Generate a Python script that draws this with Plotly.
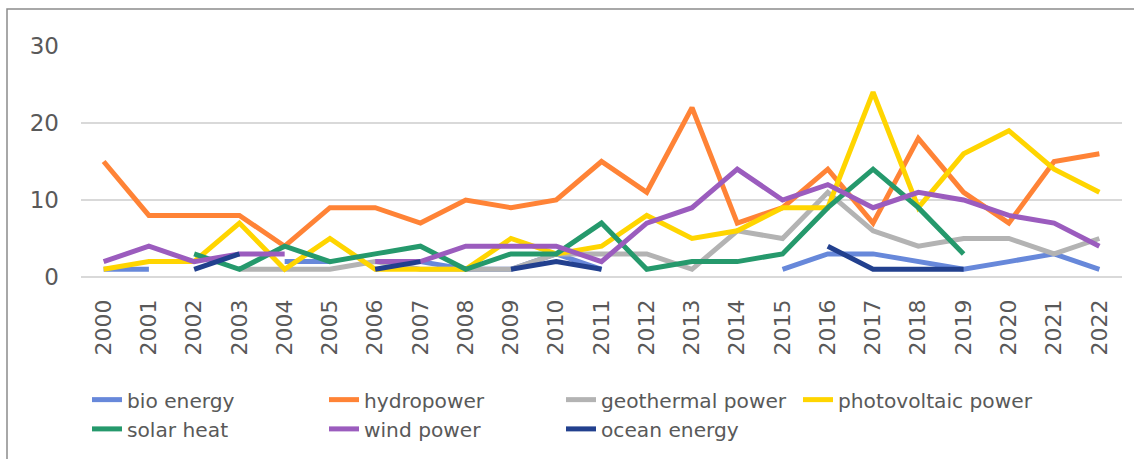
import plotly.graph_objects as go

years = [str(y) for y in range(2000, 2023)]
N = None
bio_energy =      [1, 1, N, N, 2, 2, N, 2, 1, 1, 3, 1, N, N, N, 1, 3, 3, 2, 1, 2, 3, 1]
hydropower =      [15, 8, 8, 8, 4, 9, 9, 7, 10, 9, 10, 15, 11, 22, 7, 9, 14, 7, 18, 11, 7, 15, 16]
geothermal =      [N, N, N, 1, 1, 1, 2, 1, 1, 1, 3, 3, 3, 1, 6, 5, 11, 6, 4, 5, 5, 3, 5]
photovoltaic =    [1, 2, 2, 7, 1, 5, 1, 1, 1, 5, 3, 4, 8, 5, 6, 9, 9, 24, 9, 16, 19, 14, 11]
solar_heat =      [N, N, 3, 1, 4, 2, 3, 4, 1, 3, 3, 7, 1, 2, 2, 3, 9, 14, 9, 3, N, N, N]
wind_power =      [2, 4, 2, 3, 3, N, 2, 2, 4, 4, 4, 2, 7, 9, 14, 10, 12, 9, 11, 10, 8, 7, 4]
ocean_energy =    [N, N, 1, 3, N, N, 1, 2, N, 1, 2, 1, N, N, N, N, 4, 1, 1, 1, N, N, N]

series = [
    ("bio energy", bio_energy, "#6788DA"),
    ("hydropower", hydropower, "#FF8336"),
    ("geothermal power", geothermal, "#B3B3B3"),
    ("photovoltaic power", photovoltaic, "#FFD500"),
    ("solar heat", solar_heat, "#25996C"),
    ("wind power", wind_power, "#9B5CBE"),
    ("ocean energy", ocean_energy, "#22408E"),
]

fig = go.Figure()
for name, vals, color in series:
    fig.add_trace(go.Scatter(
        x=years, y=vals, name=name, mode="lines",
        line=dict(color=color, width=5),
        connectgaps=False,
    ))

font_color = "#595959"
W, H = 1134, 459
ml, mr, mt, mb = 40, 12, 46, 10
pw, ph = W - ml - mr, H - mt - mb
plot_left_px, plot_bottom_px = 81, 277
xdom0 = (plot_left_px - ml) / pw
ydom0 = (H - mb - plot_bottom_px) / ph
bw = 20

def px_x(p):
    return (p - ml) / pw

def px_y(p):
    return (H - mb - p) / ph

fig.update_layout(
    width=W, height=H,
    margin=dict(l=ml, r=mr, t=mt, b=mb, autoexpand=False),
    paper_bgcolor="white", plot_bgcolor="white",
    font=dict(family="DejaVu Sans", size=21, color=font_color),
    showlegend=True,
    legend=dict(
        orientation="h", x=px_x(87 - bw), xanchor="left", y=px_y(380 - bw), yanchor="top",
        entrywidth=192, entrywidthmode="pixels",
        font=dict(size=20.2, color=font_color),
        itemwidth=30, bgcolor="rgba(0,0,0,0)",
        borderwidth=bw, bordercolor="rgba(0,0,0,0)",
    ),
    xaxis=dict(
        domain=[xdom0, 1],
        type="category", range=[-0.5, 22.5],
        tickangle=-90, showgrid=False, showline=False, ticks="",
        tickfont=dict(size=22, color=font_color),
        ticklabelstandoff=17,
    ),
    yaxis=dict(
        domain=[ydom0, 1],
        range=[0, 30], tickvals=[0, 10, 20, 30],
        showgrid=True, gridcolor="#D9D9D9", gridwidth=2,
        zeroline=True, zerolinecolor="#D9D9D9", zerolinewidth=2,
        showline=False, ticks="",
        tickfont=dict(size=23, color=font_color),
        ticklabelstandoff=21,
    ),
)
fig.add_shape(type="rect", xref="paper", yref="paper",
              x0=px_x(7), x1=px_x(1145), y0=px_y(475), y1=px_y(9),
              line=dict(color="#8C8C8C", width=1.5), fillcolor="rgba(0,0,0,0)", layer="below")
fig.write_html("out.html")
